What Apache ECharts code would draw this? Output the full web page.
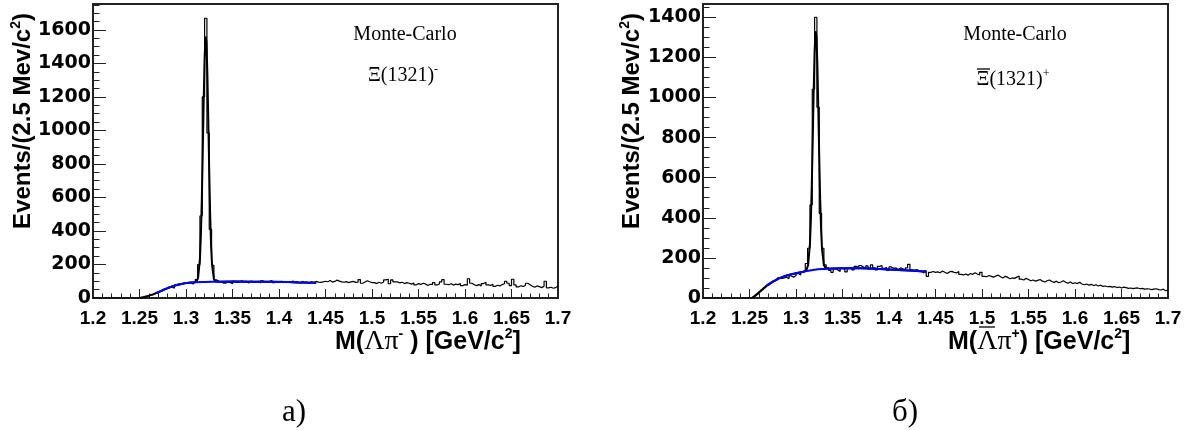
<!DOCTYPE html>
<html><head><meta charset="utf-8">
<script src="https://cdn.jsdelivr.net/npm/echarts@6/dist/echarts.min.js"></script>
<style>html,body{margin:0;padding:0;background:#fff}#c{width:1203px;height:430px}</style>
</head><body><div id="c"></div>
<script>
// ---- data ----
const binLow = 1.2;        // GeV/c^2, first bin edge
const binWidth = 0.0025;   // 2.5 MeV/c^2
const xMin = 1.2, xMax = 1.7;
const yMaxLeft = 1755, yMaxRight = 1466;

// Left: M(Lambda pi-) histogram (200 bins)
const histLeft = [
 0,0,0,0,0,0,0,0,0,0, 0,0,0,0,0,0,0,0,0,0,
 2,5,9,12,17,20,27,30,38,43,
 51,55,62,66,58,77,79,84,85,89,
 90,92,84,95,110,200,490,1200,1670,985,
 410,195,108,102,95,100,88,96,92,85,
 99,94,97,103,96,98,90,101,97,93,
 100,89,102,96,95,99,104,92,97,94,
 100,96,91,98,95,101,93,97,90,99,
 94,96,88,97,92,99,95,93,96,100,
 97,104,95,99,107,101,96,94,98,92,
 96,99,93,95,110,88,95,103,97,92,
 92,86,94,88,95,108,112,85,108,96,
 97,90,94,86,92,88,83,90,78,86,
 81,88,84,75,82,80,92,78,84,96,
 110,82,79,85,77,83,80,86,74,80,
 76,115,88,79,74,80,72,86,94,78,
 75,82,69,76,72,80,85,100,88,74,
 112,78,66,73,69,75,88,79,70,64,
 72,68,62,70,100,60,64,58,62,72
];
// Right: M(anti-Lambda pi+) histogram (200 bins)
const histRight = [
 0,0,0,0,0,0,0,0,0,0, 0,0,0,0,0,0,0,0,0,0,
 1,5,14,22,32,42,52,62,70,78,
 85,90,100,98,100,104,96,110,104,112,
 122,115,128,134,172,248,464,1041,1400,951,
 422,248,165,150,138,128,146,140,132,148,
 142,130,146,150,140,158,150,162,155,148,
 160,145,165,150,140,158,162,148,152,138,
 155,148,150,142,150,146,140,150,168,140,
 138,142,135,132,125,135,108,128,132,128,
 130,126,135,128,122,130,133,128,125,132,
 118,115,120,114,122,118,126,120,115,128,
 108,106,112,108,104,110,114,106,100,108,
 104,96,100,98,104,110,94,90,98,92,
 86,90,84,88,92,84,80,86,90,82,
 78,84,76,80,86,78,74,80,72,76,
 72,78,70,66,70,64,68,62,66,60,
 64,58,60,56,58,54,57,52,55,50,
 54,52,48,50,47,49,50,46,48,44,
 46,45,42,44,46,42,40,44,36,40
];

// Fit curves: [mass, events]
const fitTotalLeft = [[1.25,0],[1.255,6],[1.26,14],[1.265,23],[1.27,34],[1.275,47],[1.28,59],[1.285,69],[1.29,78],[1.295,84],[1.30,89],[1.305,92],[1.308,93],[1.311,97],[1.313,120],[1.315,235],[1.316,373],[1.317,586],[1.318,866],[1.319,1171],[1.320,1429],[1.321,1561],[1.3213,1569],[1.322,1527],[1.323,1336],[1.324,1051],[1.325,749],[1.326,493],[1.327,309],[1.328,198],[1.330,113],[1.332,99],[1.335,97],[1.35,98],[1.37,97.5],[1.39,97],[1.41,95],[1.42,93],[1.44,91]];
const fitBkgLeft = [[1.268,30],[1.27,34],[1.275,47],[1.28,59],[1.285,69],[1.29,78],[1.295,84],[1.30,89],[1.305,92],[1.31,94],[1.32,96],[1.33,97],[1.35,98],[1.37,97.5],[1.39,97],[1.41,95],[1.42,93],[1.44,91]];
const fitTotalRight = [[1.2524,0],[1.255,9],[1.26,27],[1.265,47],[1.27,67],[1.275,82],[1.28,94],[1.285,104],[1.29,112],[1.295,118],[1.30,123],[1.305,128],[1.308,131],[1.311,137],[1.313,164],[1.315,271],[1.316,391],[1.317,568],[1.318,792],[1.319,1030],[1.320,1228],[1.321,1330],[1.3213,1336],[1.322,1304],[1.323,1160],[1.324,939],[1.325,701],[1.326,493],[1.327,339],[1.328,243],[1.330,163],[1.332,148],[1.335,146],[1.34,147],[1.35,148],[1.37,148],[1.39,145],[1.41,140],[1.43,135],[1.44,131]];
const fitBkgRight = [[1.268,61],[1.27,67],[1.275,82],[1.28,94],[1.285,104],[1.29,112],[1.295,118],[1.30,123],[1.305,128],[1.31,133],[1.32,141],[1.33,145],[1.34,147],[1.35,148],[1.37,148],[1.39,145],[1.41,140],[1.43,135],[1.44,131]];

// ---- helpers ----
function stepPoints(h){
  const pts = h.map((v,i)=>[+(binLow+i*binWidth).toFixed(5), v]);
  pts.push([+(binLow+h.length*binWidth).toFixed(5), h[h.length-1]]);
  return pts;
}
const AX = '#222';
const bold = 'Liberation Sans, Arial, sans-serif';
const serif = 'Liberation Serif, Times New Roman, serif';
function xAxes(grid){
  return [
    {type:'value', gridIndex:grid, position:'bottom', min:xMin, max:xMax, interval:0.05,
     axisLine:{show:false}, splitLine:{show:false},
     axisTick:{inside:true, length:9, lineStyle:{color:AX, width:1}},
     axisLabel:{margin:11, fontFamily:bold, fontWeight:'bold', fontSize:19, color:'#000'}},
    {type:'value', gridIndex:grid, position:'bottom', min:xMin, max:xMax, interval:0.01,
     axisLine:{show:false}, splitLine:{show:false}, axisLabel:{show:false},
     axisTick:{inside:true, length:4.5, lineStyle:{color:AX, width:1}}}
  ];
}
function yAxes(grid, ymax){
  return [
    {type:'value', gridIndex:grid, position:'left', min:0, max:ymax, interval:200,
     axisLine:{show:false}, splitLine:{show:false},
     axisTick:{inside:true, length:13, lineStyle:{color:AX, width:1}},
     axisLabel:{margin:2, showMaxLabel:false, formatter:(v)=>String(v),
       fontFamily:'DejaVu Sans, sans-serif', fontWeight:'bold', fontSize:19, color:'#000'}},
    {type:'value', gridIndex:grid, position:'left', min:0, max:ymax, interval:50,
     axisLine:{show:false}, splitLine:{show:false}, axisLabel:{show:false},
     axisTick:{inside:true, length:6.5, lineStyle:{color:AX, width:1}}}
  ];
}
function seriesFor(grid, hist, tot, bkg){
  const xi = grid*2, yi = grid*2;
  return [
    {type:'line', xAxisIndex:xi, yAxisIndex:yi, data:stepPoints(hist), step:'end', symbol:'none',
     lineStyle:{color:'#000', width:1.2}, z:2},
    {type:'line', xAxisIndex:xi, yAxisIndex:yi, data:tot, symbol:'none', smooth:false,
     lineStyle:{color:'#000', width:2}, z:3},
    {type:'line', xAxisIndex:xi, yAxisIndex:yi, data:bkg, symbol:'none', smooth:true,
     lineStyle:{color:'#0000ff', width:2}, z:4}
  ];
}
function yTitle(x){
  return {type:'text', x:x, y:13, rotation:Math.PI/2, z:10,
    style:{text:'{a|Events/(2.5 Mev/c}{s|2}{a|)}', align:'right', verticalAlign:'middle',
      rich:{a:{fontFamily:bold, fontWeight:'bold', fontSize:24, lineHeight:28, fill:'#000'},
            s:{fontFamily:bold, fontWeight:'bold', fontSize:14, lineHeight:14, verticalAlign:'top', fill:'#000'}}}};
}
function xTitle(x, txt){
  return {type:'text', x:x, y:342, z:10,
    style:{text:txt, align:'left', verticalAlign:'middle',
      rich:{b:{fontFamily:bold, fontWeight:'bold', fontSize:25, lineHeight:30, fill:'#000'},
            g:{fontFamily:serif, fontSize:28, lineHeight:30, fill:'#000'},
            s:{fontFamily:bold, fontWeight:'bold', fontSize:14, lineHeight:14, verticalAlign:'top', fill:'#000'}}}};
}
function note(x, y, txt){
  return {type:'text', x:x, y:y, z:10,
    style:{text:txt, align:'center', verticalAlign:'middle',
      rich:{n:{fontFamily:serif, fontSize:20, lineHeight:24, fill:'#000'},
            s:{fontFamily:serif, fontSize:12, lineHeight:12, verticalAlign:'top', fill:'#000'}}}};
}
function panelLabel(x, txt){
  return {type:'text', x:x, y:413, z:10,
    style:{text:txt, align:'center', verticalAlign:'middle', fontFamily:serif, fontSize:31, fill:'#000'}};
}
function bar(x1, x2, y){
  return {type:'line', z:11, shape:{x1:x1, y1:y, x2:x2, y2:y}, style:{stroke:'#000', lineWidth:1.3}};
}

const option = {
  animation:false,
  backgroundColor:'#fff',
  grid:[
    {left:93, top:4, width:465, height:294, show:true, borderColor:AX, borderWidth:2, backgroundColor:'transparent'},
    {left:703, top:4, width:465, height:294, show:true, borderColor:AX, borderWidth:2, backgroundColor:'transparent'}
  ],
  xAxis:[...xAxes(0), ...xAxes(1)],
  yAxis:[...yAxes(0, yMaxLeft), ...yAxes(1, yMaxRight)],
  series:[...seriesFor(0, histLeft, fitTotalLeft, fitBkgLeft), ...seriesFor(1, histRight, fitTotalRight, fitBkgRight)],
  graphic:[
    yTitle(23), yTitle(632),
    xTitle(335, '{b|M(}{g|Λπ}{s|-}{b| ) [GeV/c}{s|2}{b|]}'),
    xTitle(948, '{b|M(}{g|Λπ}{s|+}{b|) [GeV/c}{s|2}{b|]}'),
    bar(979, 995, 327),
    note(405, 35, '{n|Monte-Carlo}'),
    note(403, 76, '{n|Ξ(1321)}{s|-}'),
    note(1015, 35, '{n|Monte-Carlo}'),
    note(1013, 80, '{n|Ξ(1321)}{s|+}'),
    bar(977, 990, 69),
    panelLabel(294, 'a)'),
    panelLabel(905, 'б)')
  ]
};
const chart = echarts.init(document.getElementById('c'), null, {renderer:'canvas'});
chart.setOption(option);
</script>
</body></html>
